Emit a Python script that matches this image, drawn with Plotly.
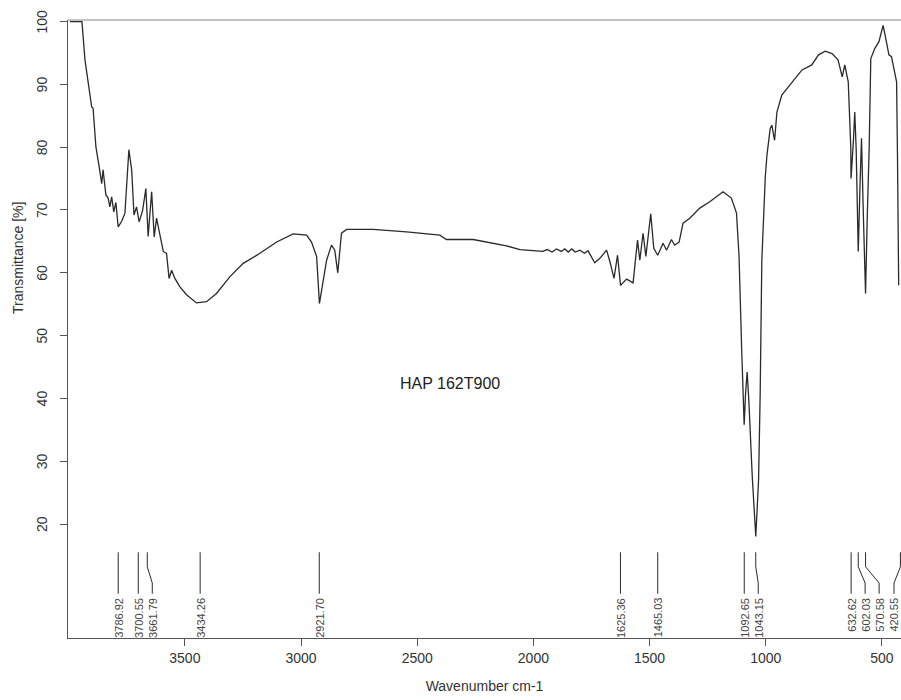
import plotly.graph_objects as go

# Spectrum (wavenumber cm-1, transmittance %)
wavenumber = [
    3995, 3943, 3930, 3901, 3895, 3883, 3869, 3858, 3852, 3844, 3840, 3830, 3823, 3815,
    3806, 3797, 3787, 3772, 3758, 3741, 3729, 3719, 3708, 3697, 3682, 3668, 3658, 3643,
    3632, 3622, 3608, 3593, 3579, 3568, 3557, 3543, 3522, 3493, 3450, 3407, 3364, 3306,
    3249, 3177, 3105, 3034, 2976, 2955, 2933, 2921, 2890, 2869, 2855, 2842, 2826, 2804,
    2747, 2690, 2546, 2403, 2374, 2259, 2116, 2058, 1987, 1960, 1940, 1920, 1901, 1880,
    1865, 1850, 1835, 1820, 1800, 1780, 1765, 1750, 1736, 1714, 1685, 1671, 1653, 1638,
    1625, 1599, 1571, 1552, 1542, 1528, 1516, 1495, 1482, 1465, 1442, 1427, 1406, 1392,
    1373, 1356, 1327, 1284, 1241, 1184, 1148, 1126, 1115, 1104, 1093, 1087, 1080, 1073,
    1058, 1043, 1031, 1024, 1017, 1002, 995, 981, 974, 962, 952, 931, 887, 844, 802,
    773, 744, 715, 689, 671, 660, 645, 634, 633, 623, 617, 611, 602, 594, 588, 580,
    570.6, 563, 555, 548, 531, 513, 495, 481, 470, 459, 452, 437, 433, 428, 420,
]
transmittance = [
    100.0, 100.0, 93.9, 86.4, 86.2, 80.1, 76.9, 74.2, 76.4, 74.3, 72.4, 71.9, 70.5, 72.1,
    69.7, 71.2, 67.3, 68.2, 69.5, 79.6, 76.4, 69.2, 70.5, 68.1, 69.9, 73.4, 65.8, 72.9,
    65.7, 68.7, 66.3, 63.4, 63.1, 59.1, 60.4, 59.1, 57.8, 56.5, 55.2, 55.4, 56.7, 59.4,
    61.5, 63.1, 64.9, 66.2, 66.0, 64.9, 62.6, 55.1, 62.0, 64.4, 63.6, 60.0, 66.3, 66.9,
    66.9, 66.9, 66.5, 66.0, 65.3, 65.3, 64.3, 63.7, 63.5, 63.4, 63.7, 63.3, 63.8, 63.4,
    63.8, 63.3, 63.8, 63.3, 63.6, 63.1, 63.5, 62.6, 61.6, 62.3, 63.6, 61.8, 59.1, 62.8,
    58.0, 59.0, 58.4, 65.2, 62.0, 66.3, 62.6, 69.4, 63.9, 62.8, 64.7, 63.6, 65.3, 64.4,
    64.9, 67.9, 68.7, 70.3, 71.3, 72.9, 71.9, 69.5, 62.6, 48.2, 35.8, 40.8, 44.2, 39.7,
    27.5, 18.0, 27.0, 40.8, 62.0, 75.3, 78.7, 83.0, 83.5, 81.1, 85.6, 88.3, 90.4, 92.3,
    93.1, 94.7, 95.3, 94.9, 93.9, 91.2, 93.1, 90.4, 79.8, 75.0, 80.9, 85.6, 79.8, 63.4,
    74.5, 81.4, 69.2, 56.7, 69.2, 79.8, 94.1, 95.7, 96.8, 99.4, 96.8, 94.7, 94.4, 93.1,
    90.4, 78.2, 58.0,
]

# Labelled peaks
peak_wavenumbers = [3786.92, 3700.55, 3661.79, 3434.26, 2921.70, 1625.36, 1465.03,
                    1092.65, 1043.15, 632.62, 602.03, 570.58, 420.55]
peak_labels = ["3786.92", "3700.55", "3661.79", "3434.26", "2921.70", "1625.36", "1465.03",
               "1092.65", "1043.15", "632.62", "602.03", "570.58", "420.55"]

x_ticks = [3500, 3000, 2500, 2000, 1500, 1000, 500]
y_ticks = [20, 30, 40, 50, 60, 70, 80, 90, 100]
sample_name = "HAP 162T900"

n = min(len(wavenumber), len(transmittance))
wavenumber = wavenumber[:n]
transmittance = transmittance[:n]

X_RANGE = [4003, 418]
Y_RANGE = [1.85, 100.25]
W, H = 901, 700
M = dict(l=68, r=0, t=20, b=62)
plot_w = W - M["l"] - M["r"]
px_per_unit = plot_w / (X_RANGE[0] - X_RANGE[1])
min_sep = 14 / px_per_unit
min_label_w = X_RANGE[1] + 7 / px_per_unit  # keep the last label inside the page

# declutter label positions
label_pos = []
for i, p in enumerate(peak_wavenumbers):
    pos = p if i == 0 else min(p, label_pos[-1] - min_sep)
    label_pos.append(max(pos, min_label_w))

ink = "#2a2a2a"
fig = go.Figure()
fig.add_trace(go.Scatter(x=wavenumber, y=transmittance, mode="lines",
                         line=dict(color=ink, width=1.3), showlegend=False,
                         hoverinfo="skip"))

Y_TOP, Y_BEND1, Y_BEND2, Y_BOT = 15.5, 13.2, 10.6, 8.9
for p, lp, lab in zip(peak_wavenumbers, label_pos, peak_labels):
    lp_line = lp
    xs = [p, p, lp_line, lp_line]
    ys = [Y_TOP, Y_BEND1, Y_BEND2, Y_BOT]
    fig.add_trace(go.Scatter(x=xs, y=ys, mode="lines", line=dict(color=ink, width=1),
                             showlegend=False, hoverinfo="skip", cliponaxis=False))
    fig.add_annotation(x=lp, y=Y_BOT - 0.3, text=lab, showarrow=False, textangle=-90,
                       xanchor="center", yanchor="top",
                       font=dict(family="Liberation Sans", size=11, color="#444"))

# y tick labels (rotated, close to the axis)
lab_x = (42 - M["l"]) / plot_w
for v in y_ticks:
    fig.add_annotation(xref="paper", yref="y", x=lab_x, y=v, text=str(v), showarrow=False,
                       textangle=-90, xanchor="center", yanchor="middle",
                       font=dict(family="Liberation Sans", size=14, color="#333"))

fig.add_annotation(x=2360, y=42.4, text=sample_name, showarrow=False,
                   font=dict(family="Liberation Sans", size=16, color="#222"))
fig.add_annotation(xref="paper", yref="paper", x=(18 - M["l"]) / plot_w, y=0.615,
                   text="Transmittance [%]", showarrow=False, textangle=-90,
                   xanchor="center", yanchor="middle",
                   font=dict(family="Liberation Sans", size=14, color="#333"))
fig.add_shape(type="line", xref="paper", yref="paper", x0=0, x1=1, y0=1, y1=1,
              line=dict(color="#888", width=1))

fig.update_layout(
    width=W, height=H, margin=M, paper_bgcolor="white", plot_bgcolor="white",
    font=dict(family="Liberation Sans", color="#333"),
    xaxis=dict(range=X_RANGE, tickvals=x_ticks, ticks="outside", ticklen=7,
               tickcolor="#555", showline=True, linecolor="#555", linewidth=1,
               showgrid=False, zeroline=False, tickfont=dict(size=14, color="#333"),
               title=dict(text="Wavenumber cm-1", font=dict(size=14, color="#333"),
                          standoff=16)),
    yaxis=dict(range=Y_RANGE, tickvals=y_ticks, ticks="outside", ticklen=7,
               tickcolor="#555", showline=True, linecolor="#555", linewidth=1,
               showgrid=False, zeroline=False, showticklabels=False),
)
fig.write_html("out.html")
